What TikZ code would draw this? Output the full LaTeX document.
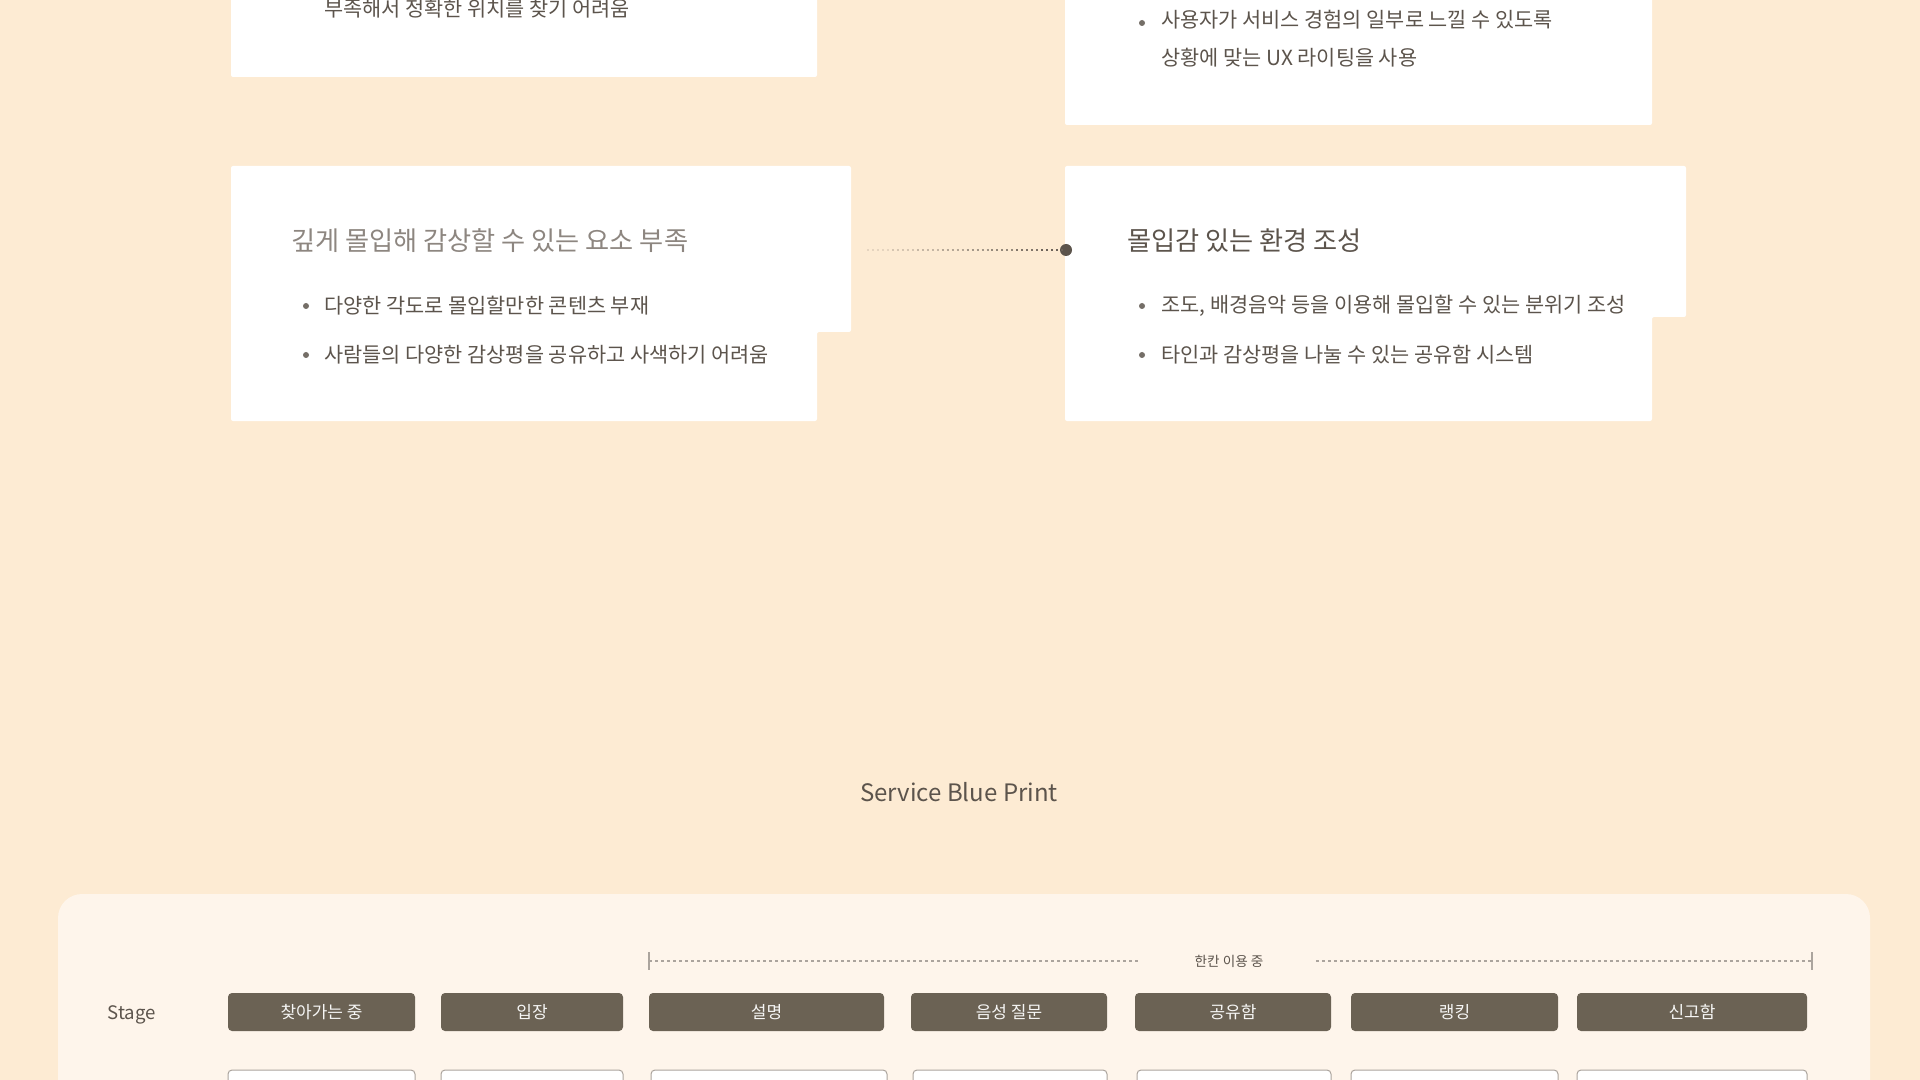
\documentclass[tikz,border=0pt]{standalone}
\usepackage{fontspec}
\setmainfont{Noto Sans CJK KR}
\usetikzlibrary{calc,positioning}

\definecolor{bgpeach}{HTML}{FDEBD3}
\definecolor{panelcream}{HTML}{FEF5EB}
\definecolor{inkbrown}{HTML}{5C544C}
\definecolor{softgrey}{HTML}{8D8680}
\definecolor{stagebrown}{HTML}{6B6254}
\definecolor{linegrey}{HTML}{ABA49D}

\begin{document}
\begin{tikzpicture}[
      x=0.5pt, y=-0.5pt,
      card/.style={fill=white, rounded corners=1pt},
      cardtitle/.style={anchor=west, inner sep=0, text=inkbrown, font=\fontsize{13.1}{15}\selectfont},
      cardtext/.style={anchor=west, inner sep=0, text=inkbrown, align=left, font=\fontsize{10.4}{19}\selectfont},
      bulletdot/.style={circle, fill=inkbrown!85, minimum size=3pt, inner sep=0},
      linkdot/.style={circle, fill=inkbrown, minimum size=6pt, inner sep=0},
      stagebox/.style={fill=stagebrown, rounded corners=2pt, text=white!94!stagebrown, minimum height=19pt, inner sep=0, font=\fontsize{8.5}{10}\selectfont},
      userbox/.style={fill=white, draw=linegrey, line width=0.5pt, rounded corners=2pt},
      rowlabel/.style={anchor=west, inner sep=0, text=inkbrown, font=\fontsize{9.3}{11}\selectfont}
   ]
      \useasboundingbox (0,0) rectangle (1920,1080);
      \clip (0,0) rectangle (1920,1080);
      \fill[bgpeach] (0,0) rectangle (1920,1080);

      % cards
      \fill[card] (231,-20) rectangle (817,77);
      \fill[card] (1065,-20) rectangle (1652,125);
      \fill[card] (231,166) -- (851,166) -- (851,332) -- (817,332) -- (817,421) -- (231,421) -- cycle;
      \fill[card] (1065,166) -- (1686,166) -- (1686,317) -- (1652,317) -- (1652,421) -- (1065,421) -- cycle;

      \node[cardtext] (findtext) at (324,9) {부족해서 정확한 위치를 찾기 어려움};
      \node[bulletdot] (uxdot) at (1142,23) {};
      \node[cardtext, anchor=north west] (uxtext) at (1161,10) {사용자가 서비스 경험의 일부로 느낄 수 있도록\\상황에 맞는 UX 라이팅을 사용};

      \node[cardtitle, text=softgrey] (lacktitle) at (291,241) {깊게 몰입해 감상할 수 있는 요소 부족};
      \node[bulletdot] (lackdotA) at (306,306) {};
      \node[cardtext] (lackA) at (324,306) {다양한 각도로 몰입할만한 콘텐츠 부재};
      \node[bulletdot] (lackdotB) at (306,355) {};
      \node[cardtext] (lackB) at (324,355) {사람들의 다양한 감상평을 공유하고 사색하기 어려움};

      \node[cardtitle] (immtitle) at (1127,241) {몰입감 있는 환경 조성};
      \node[bulletdot] (immdotA) at (1142,306) {};
      \node[cardtext] (immA) at (1161,306) {조도, 배경음악 등을 이용해 몰입할 수 있는 분위기 조성};
      \node[bulletdot] (immdotB) at (1142,355) {};
      \node[cardtext] (immB) at (1161,355) {타인과 감상평을 나눌 수 있는 공유함 시스템};

      % dotted link, fading in from the left
      \coordinate (linkstart) at (867,250);
      \node[linkdot] (linkend) at (1066,250) {};
      \foreach \a/\p in {0/15,0.125/25,0.25/35,0.375/45,0.5/55,0.625/65,0.75/78,0.875/90}
         \draw[inkbrown!\p!bgpeach, line width=1.1pt, dash pattern=on 1pt off 1.5pt]
            ($(linkstart)!\a!(linkend)$) -- ($(linkstart)!\a+0.125!(linkend)$);

      \node[text=inkbrown, font=\fontsize{12}{14}\selectfont] (bptitle) at (959,792) {Service Blue Print};

      % blueprint panel
      \fill[panelcream, rounded corners=12pt] (58,894) rectangle (1870,1140);

      \coordinate (spanL) at (649,961);
      \coordinate (spanR) at (1812,961);
      \node[text=inkbrown, font=\fontsize{6.8}{8}\selectfont] (spanlabel) at (1229,961) {한칸 이용 중};
      \draw[linegrey, line width=1pt, dash pattern=on 1.5pt off 1.5pt] (spanL) -- (1140,961);
      \draw[linegrey, line width=1pt, dash pattern=on 1.5pt off 1.5pt] (1316,961) -- (spanR);
      \draw[linegrey, line width=0.8pt] ($(spanL)+(0,-9)$) -- ($(spanL)+(0,9)$);
      \draw[linegrey, line width=0.8pt] ($(spanR)+(0,-9)$) -- ($(spanR)+(0,9)$);

      \node[rowlabel] (stagelabel) at (107,1015) {Stage};
      \foreach \l/\r/\t [count=\i] in {228/415/찾아가는 중, 441/623/입장, 649/884/설명, 911/1107/음성 질문, 1135/1331/공유함, 1351/1558/랭킹, 1577/1807/신고함}
         \node[stagebox, minimum width={(\r-\l)*0.5pt}] (stage\i) at ({(\l+\r)/2},1012) {\t};

      \node[rowlabel] (userlabel) at (107,1088) {User};
      \foreach \l/\r [count=\i] in {228/415, 441/623, 651/887, 913/1107, 1137/1331, 1351/1558, 1577/1807}
         \draw[userbox] (\l,1070) rectangle (\r,1120);
   \end{tikzpicture}
\end{document}
